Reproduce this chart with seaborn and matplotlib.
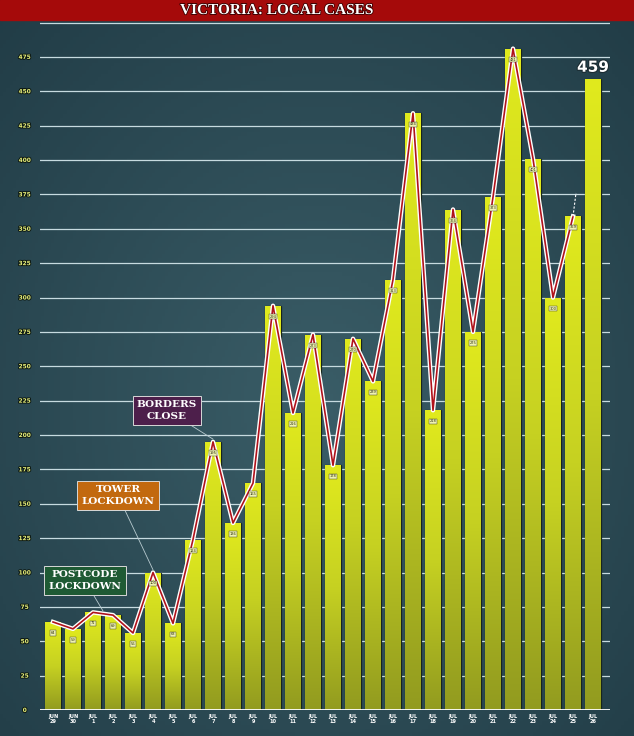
import matplotlib.pyplot as plt
import matplotlib.patheffects as pe
from matplotlib.patches import Rectangle
from matplotlib.colors import LinearSegmentedColormap
import numpy as np
import pandas as pd
import seaborn as sns

# Data
months = ['JUN', 'JUN'] + ['JUL'] * 26
days = [29, 30, 1, 2, 3, 4, 5, 6, 7, 8, 9, 10, 11, 12, 13,
        14, 15, 16, 17, 18, 19, 20, 21, 22, 23, 24, 25, 26]
cases = [64, 59, 71, 69, 56, 100, 63, 124, 195, 136, 165, 294, 216, 273,
         178, 270, 239, 313, 434, 218, 364, 275, 373, 481, 401, 300, 359, 459]
y_ticks = [0, 25, 50, 75, 100, 125, 150, 175, 200, 225, 250, 275, 300,
           325, 350, 375, 400, 425, 450, 475]
grid_levels = y_ticks[1:] + [500]

events = ['POSTCODE\nLOCKDOWN', 'TOWER\nLOCKDOWN', 'BORDERS\nCLOSE']
event_day = [2.5, 5, 8]          # bar index the note points at
event_colors = ['#1f5a34', '#c2690f', '#4d1f4b']

df = pd.DataFrame({'date': [f'{m}\n{d}' for m, d in zip(months, days)],
                   'cases': cases})

W, H = 634, 736
fig = plt.figure(figsize=(W / 100, H / 100), dpi=100)

# Background: dark teal with a soft vignette
bg = fig.add_axes([0, 0, 1, 1], zorder=-5)
yy, xx = np.mgrid[0:1:200j, 0:1:200j]
shade = 1 - np.clip(np.hypot(xx - 0.5, yy - 0.55) * 1.1, 0, 1)
bg_cmap = LinearSegmentedColormap.from_list('bg', ['#213c46', '#3a5d67'])
bg.imshow(shade, cmap=bg_cmap, aspect='auto', extent=[0, 1, 0, 1])
bg.axis('off')

# Main axes placed to match the reference pixel layout
ax = fig.add_axes([40 / W, 26 / H, 570 / W, 505 * 1.375 / H])
ax.set_facecolor('none')

sns.barplot(data=df, x='date', y='cases', color='#cfdb1f', width=0.8,
            edgecolor='#17251d', linewidth=0.9, ax=ax, zorder=2)

# Gradient fill for each bar
bar_cmap = LinearSegmentedColormap.from_list('bar', ['#929b1f', '#c6d122', '#e1ea1d'])
grad = np.linspace(0, 1, 256).reshape(-1, 1)
for p in ax.patches:
    x0, w, h = p.get_x(), p.get_width(), p.get_height()
    im = ax.imshow(grad, cmap=bar_cmap, aspect='auto', origin='lower',
                   extent=[x0, x0 + w, 0, h], zorder=2.5)
    im.set_clip_path(p)

# Grid lines and base line
for g in grid_levels:
    ax.axhline(g, color='#c7dbe0', lw=0.9, zorder=1)
ax.axhline(0, color='white', lw=1.3, zorder=3)

# Red / white trend line across the bar tops
n = len(cases) - 1
ax.plot(range(n), cases[:n], color='#b0121b', lw=1.2, zorder=4,
        path_effects=[pe.Stroke(linewidth=3.2, foreground='white'), pe.Normal()])
ax.plot([n - 1, n - 0.85], [cases[n - 1], cases[n - 1] + 17], color='white',
        lw=0.8, ls=(0, (2, 1.5)), zorder=4)

# Small value tags
for i, v in enumerate(cases[:-1]):
    ax.text(i, v - 8, str(v), fontsize=2.6, ha='center', va='center',
            color='#2a2a10', zorder=5,
            bbox=dict(boxstyle='square,pad=0.2', fc='#eef2b0', ec='#333', lw=0.3))
ax.text(len(cases) - 1, cases[-1] + 3, str(cases[-1]), fontsize=11,
        fontweight='bold', color='white', ha='center', va='bottom', zorder=5,
        family='DejaVu Sans',
        path_effects=[pe.withStroke(linewidth=1.5, foreground='#1a2a30')])

# Event notes
note_pos = [(1.6, 94), (3.25, 156), (5.7, 218)]
for txt, day, col, (bx, by) in zip(events, event_day, event_colors, note_pos):
    idx = int(day)
    ty = (cases[idx] + cases[idx + 1]) / 2 if day != idx else cases[idx]
    ax.annotate(txt, xy=(day, ty + 2), xytext=(bx, by), ha='center', va='center',
                fontsize=7.5, fontweight='bold', color='white', family='DejaVu Serif',
                linespacing=1.45, zorder=6,
                bbox=dict(boxstyle='square,pad=0.4', fc=col, ec='#d8d8d8', lw=0.7),
                arrowprops=dict(arrowstyle='-', color='#b9cbd0', lw=0.6,
                                shrinkA=0, shrinkB=0))

ax.set_xlim(-0.65, 27.85)
ax.set_ylim(0, 505)
ax.set_yticks(y_ticks)
ax.set_yticklabels([str(t) for t in y_ticks])
ax.set_xlabel('')
ax.set_ylabel('')
for s in ax.spines.values():
    s.set_visible(False)

ax.tick_params(axis='y', length=0, pad=11)
for t in ax.get_yticklabels():
    t.set_ha('center')
    t.set_fontsize(4.2)
    t.set_fontweight('bold')
    t.set_color('#e9f07a')
    t.set_path_effects([pe.withStroke(linewidth=1.4, foreground='#0e1a14')])

ax.tick_params(axis='x', length=0, pad=3)
for t in ax.get_xticklabels():
    t.set_fontsize(3.6)
    t.set_fontweight('bold')
    t.set_color('white')
    t.set_linespacing(0.9)

# Title banner
fig.add_artist(Rectangle((0, 1 - 20 / H), 1, 20 / H, transform=fig.transFigure,
                         color='#a50a0a', zorder=10))
fig.text(0.436, 1 - 10.5 / H, 'VICTORIA: LOCAL CASES', ha='center', va='center',
         color='white', fontsize=11, fontweight='bold', family='Liberation Serif',
         zorder=11, path_effects=[pe.withStroke(linewidth=1.2, foreground='#3a0000')])

fig.savefig('out.png', dpi=100)
